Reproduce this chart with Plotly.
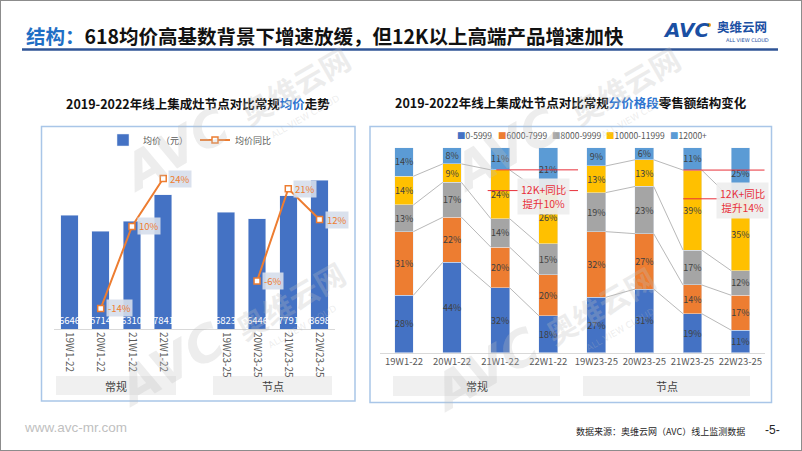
import plotly.graph_objects as go

W, H = 802, 451


def X(px):
    return px / W


def Y(py):
    return 1 - py / H


FONT = "Noto Sans CJK SC, Noto Sans, sans-serif"

# ---------------- data ----------------
categories = ["19W1-22", "20W1-22", "21W1-22", "22W1-22",
              "19W23-25", "20W23-25", "21W23-25", "22W23-25"]
group_names = ["常规", "节点"]

avg_price = [6646, 5714, 6310, 7841, 6823, 6446, 7791, 8698]
avg_price_yoy = [None, -0.14, 0.10, 0.24, None, -0.06, 0.21, 0.12]

band_names = ["0-5999", "6000-7999", "8000-9999", "10000-11999", "12000+"]
share_0_5999 = [28, 44, 32, 18, 27, 31, 19, 11]
share_6000_7999 = [31, 22, 20, 20, 32, 27, 14, 17]
share_8000_9999 = [13, 17, 14, 15, 19, 23, 17, 12]
share_10000_11999 = [14, 9, 24, 26, 13, 13, 39, 35]
share_12000_plus = [14, 8, 11, 21, 9, 6, 11, 25]

callout_texts = ["12K+同比<br>提升10%", "12K+同比<br>提升14%"]

band_colors = ["#4472C4", "#ED7D31", "#A5A5A5", "#FFC000", "#5B9BD5"]
BLUE = "#4472C4"
ORANGE = "#ED7D31"

fig = go.Figure()
annotations = []
shapes = []


def txt(x, y, text, size, color, xanchor="center", yanchor="middle", family=FONT, **kw):
    font = dict(size=size, color=color, family=family)
    font.update(kw.pop("font_extra", {}))
    d = dict(x=X(x), y=Y(y), xref="paper", yref="paper", text=text, showarrow=False,
             xanchor=xanchor, yanchor=yanchor, font=font)
    d.update(kw)
    annotations.append(d)


# ---------------- left chart ----------------
left_pos = [i + (1 if i >= 4 else 0) for i in range(len(categories))]
fig.add_trace(go.Bar(
    x=left_pos, y=avg_price, name="均价（元）", marker_color=BLUE, width=0.56,
    xaxis="x", yaxis="y", legend="legend", hoverinfo="skip"))
fig.add_trace(go.Scatter(
    x=left_pos, y=avg_price_yoy, name="均价同比", mode="lines+markers",
    line=dict(color=ORANGE, width=2),
    marker=dict(symbol="square", size=6, color="white", line=dict(color=ORANGE, width=1.5)),
    connectgaps=False, xaxis="x", yaxis="y2", legend="legend2", hoverinfo="skip"))

for p, v in zip(left_pos, avg_price):
    annotations.append(dict(x=p, y=0, xref="x", yref="y", text=str(v), showarrow=False,
                            xanchor="center", yanchor="bottom", yshift=1, borderpad=0,
                            font=dict(size=9.5, color="white", family=FONT)))
for p, v in zip(left_pos, avg_price_yoy):
    if v is None:
        continue
    annotations.append(dict(x=p, y=v, xref="x", yref="y2", text=f"{round(v * 100)}%",
                            showarrow=False, xanchor="left", xshift=5, yanchor="middle",
                            bgcolor="rgba(214,222,235,0.9)", borderpad=1,
                            font=dict(size=9.5, color=ORANGE, family=FONT)))

# ---------------- right chart ----------------
shares = [share_0_5999, share_6000_7999, share_8000_9999, share_10000_11999, share_12000_plus]
totals = [sum(col) for col in zip(*shares)]
norm = [[v / t * 100 for v, t in zip(s, totals)] for s in shares]
right_pos = list(range(len(categories)))
RW = 0.39

for name, s, n, c in zip(band_names, shares, norm, band_colors):
    fig.add_trace(go.Bar(
        x=right_pos, y=n, name=name, marker_color=c, width=RW,
        text=[f"{v}%" for v in s], textposition="inside", insidetextanchor="middle",
        textangle=0, constraintext="none",
        textfont=dict(size=9, color="#404040", family=FONT),
        xaxis="x2", yaxis="y3", showlegend=False, hoverinfo="skip"))

# series lines between adjacent stacked bars
cum = []
run = [0] * len(categories)
for n in norm:
    run = [a + b for a, b in zip(run, n)]
    cum.append(run)
for level in cum[:-1]:
    xs, ys = [], []
    for i in range(len(categories) - 1):
        if i == 3:
            continue
        xs += [i + RW / 2, i + 1 - RW / 2, None]
        ys += [level[i], level[i + 1], None]
    fig.add_trace(go.Scatter(x=xs, y=ys, mode="lines", line=dict(color="#A6A6A6", width=0.8),
                             xaxis="x2", yaxis="y3", showlegend=False, hoverinfo="skip"))

# red reference lines + callouts
top12 = cum[3]
red_lines = [(top12[2], 1.92, 3.62), (top12[3], 1.74, 3.62),
             (top12[6], 5.81, 7.85), (top12[7], 5.81, 7.85)]
for yv, x0, x1 in red_lines:
    shapes.append(dict(type="line", xref="x2", yref="y3", x0=x0, x1=x1, y0=yv, y1=yv,
                       line=dict(color="#E8303A", width=1)))

txt(543, 197, callout_texts[0], 10.5, "#E8303A", bgcolor="rgba(238,238,238,0.92)", borderpad=3)
txt(742, 200, callout_texts[1], 10.5, "#E8303A", bgcolor="rgba(238,238,238,0.92)", borderpad=3)

# right legend (compact, Excel-like)
leg_x = [455, 496, 550, 604, 668]
for lx, name, c in zip(leg_x, band_names, band_colors):
    txt(lx, 135, f"<span style='color:{c}'>■</span>{name}", 8.5, "#595959", xanchor="left")

# ---------------- panels, group labels ----------------
shapes.append(dict(type="rect", xref="paper", yref="paper", x0=X(41.5), x1=X(355), y0=Y(401), y1=Y(126.5),
                   line=dict(color="#A9C6E8", width=1.5), fillcolor="rgba(0,0,0,0)", layer="below"))
shapes.append(dict(type="rect", xref="paper", yref="paper", x0=X(370), x1=X(771.5), y0=Y(402.5), y1=Y(126.5),
                   line=dict(color="#A9C6E8", width=1.5), fillcolor="rgba(0,0,0,0)", layer="below"))

group_boxes = [((56, 176), (213, 332), 376, 395), ((393, 560), (583, 750), 376, 396)]
for (g1, g2, yt, yb) in group_boxes:
    for (x0, x1), gname in zip((g1, g2), group_names):
        shapes.append(dict(type="rect", xref="paper", yref="paper", x0=X(x0), x1=X(x1),
                           y0=Y(yb), y1=Y(yt), line=dict(width=0), fillcolor="#F0F0F0", layer="below"))
        txt((x0 + x1) / 2, (yt + yb) / 2, gname, 11, "#404040")

# ---------------- header / footer ----------------
txt(24, 35, "<b><span style='color:#1F6FC5'>结构：</span>618均价高基数背景下增速放缓，但12K以上高端产品增速加快</b>",
    19.5, "#111111", xanchor="left")
shapes.append(dict(type="line", xref="paper", yref="paper", x0=X(22), x1=X(778), y0=Y(49.5), y1=Y(49.5),
                   line=dict(color="#2F5496", width=2.5)))

txt(198, 103, "<b>2019-2022年线上集成灶节点对比常规<span style='color:#2E75D0'>均价</span>走势</b>",
    12.5, "#111111")
txt(571, 102, "<b>2019-2022年线上集成灶节点对比常规<span style='color:#2E75D0'>分价格段</span>零售额结构变化</b>",
    12.5, "#111111")

# logo
txt(686, 29.5, "AVC", 20, "#1A4FA3", family="DejaVu Sans",
    font_extra=dict(weight="bold", style="italic"))
shapes.append(dict(type="circle", xref="paper", yref="paper", x0=X(707), x1=X(711), y0=Y(27), y1=Y(23),
                   line=dict(width=0), fillcolor="#F39A1E"))
txt(742, 27, "<b>奥维云网</b>", 12.5, "#1A4FA3")
txt(747, 39.5, "ALL VIEW CLOUD", 5, "#1A4FA3", family="DejaVu Sans")

txt(22, 427, "www.avc-mr.com", 13.5, "#BFBFBF", xanchor="left", family="Liberation Sans")
txt(747, 431, "数据来源：奥维云网（AVC）线上监测数据", 9, "#262626", xanchor="right")
txt(772, 430, "-5-", 12, "#262626", family="Liberation Sans")

# page border
shapes.append(dict(type="rect", xref="paper", yref="paper", x0=0, x1=1, y0=0, y1=1,
                   line=dict(color="#8C8C8C", width=2), fillcolor="rgba(0,0,0,0)"))

# watermark
WM = "rgba(190,190,190,0.28)"
for ax, ay, bx, by, cx, cy in [(175, 150, 295, 85, 305, 117), (170, 365, 290, 300, 302, 327),
                               (505, 150, 625, 85, 635, 117), (485, 370, 600, 305, 620, 330)]:
    txt(ax, ay, "AVC", 50, WM, family="DejaVu Sans", textangle=-30,
        font_extra=dict(weight="bold", style="italic"))
    txt(bx, by, "<b>奥维云网</b>", 30, WM, textangle=-30)
    txt(cx, cy, "ALL VIEW CLOUD", 9, WM, family="DejaVu Sans", textangle=-30)

fig.update_layout(
    width=W, height=H, margin=dict(l=0, r=0, t=0, b=0),
    paper_bgcolor="white", plot_bgcolor="white",
    barmode="stack", font=dict(family=FONT, color="#595959"),
    uniformtext=dict(minsize=9, mode="show"),
    xaxis=dict(domain=[X(53.8), X(335.2)], range=[-0.5, 8.5], anchor="y",
               tickmode="array", tickvals=left_pos, ticktext=categories, tickangle=90,
               showline=True, linecolor="#D9D9D9", linewidth=1, ticks="", showgrid=False,
               zeroline=False, tickfont=dict(size=10, color="#595959", family=FONT)),
    yaxis=dict(domain=[Y(329), Y(158)], range=[0, 10000], visible=False, anchor="x"),
    yaxis2=dict(overlaying="y", range=[-0.2, 0.3], visible=False, anchor="x"),
    xaxis2=dict(domain=[X(380), X(764.5)], range=[-0.5, 7.5], anchor="y3",
                tickmode="array", tickvals=right_pos, ticktext=categories, tickangle=0,
                showline=True, linecolor="#D9D9D9", linewidth=1, ticks="", showgrid=False,
                zeroline=False, tickfont=dict(size=9.5, color="#595959", family=FONT)),
    yaxis3=dict(domain=[Y(352.7), Y(147.5)], range=[0, 100], visible=False, anchor="x2"),
    legend=dict(x=X(103), y=Y(140), xanchor="left", yanchor="middle", orientation="h",
                font=dict(size=9, color="#595959", family=FONT), bgcolor="rgba(0,0,0,0)"),
    legend2=dict(x=X(195), y=Y(140), xanchor="left", yanchor="middle", orientation="h",
                 font=dict(size=9, color="#595959", family=FONT), bgcolor="rgba(0,0,0,0)"),
    annotations=annotations, shapes=shapes,
)

fig.write_html("out.html", config={"displayModeBar": False},
               post_script="document.body.style.margin='0';document.body.style.overflow='hidden';")
